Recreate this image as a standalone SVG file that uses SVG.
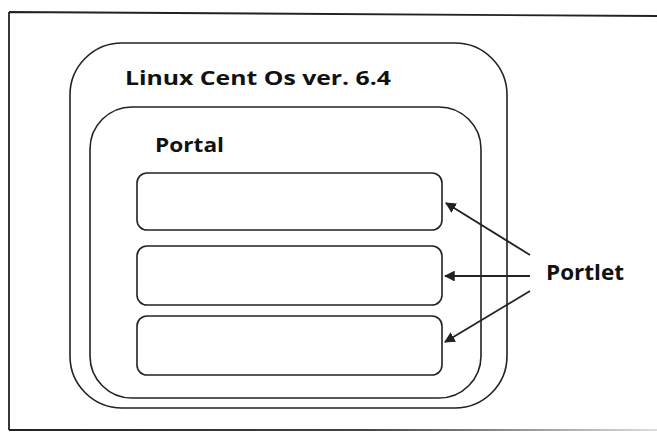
<svg xmlns="http://www.w3.org/2000/svg" width="657" height="433" viewBox="0 0 657 433">
<defs>
<style>
.box{fill:none;stroke:#222;stroke-width:1.6}
.lbl{font-family:"Open Sans","Liberation Sans",sans-serif;font-weight:bold;fill:#111}
.conn{stroke:#222;stroke-width:1.8;fill:none;marker-end:url(#ah)}
</style>
<linearGradient id="fade" gradientUnits="userSpaceOnUse" x1="9" y1="0" x2="657" y2="0">
<stop offset="0" stop-color="#222"/>
<stop offset="0.55" stop-color="#444"/>
<stop offset="1" stop-color="#ddd"/>
</linearGradient>
<marker id="ah" viewBox="0 0 10 10" refX="9" refY="5" markerWidth="6" markerHeight="6" orient="auto" markerUnits="strokeWidth">
<path d="M0,0 L10,5 L0,10 z" fill="#222"/>
</marker>
</defs>
<rect width="657" height="433" fill="#fff"/>
<path d="M9,12 L660,16 M9,12 L9,430" fill="none" stroke="#222" stroke-width="1.8"/>
<line x1="9" y1="430" x2="657" y2="430" stroke="url(#fade)" stroke-width="1.8"/>
<g id="os">
<rect class="box" x="70" y="43" width="437" height="365" rx="52" ry="52"/>
<text class="lbl" x="125" y="85" font-size="20" textLength="266" lengthAdjust="spacingAndGlyphs">Linux Cent Os ver. 6.4</text>
</g>
<g id="portal">
<rect class="box" x="90" y="107" width="391" height="291" rx="42" ry="42"/>
<text class="lbl" x="155" y="152" font-size="20" textLength="69" lengthAdjust="spacingAndGlyphs">Portal</text>
</g>
<g id="portlet1"><rect class="box" x="137" y="173" width="305" height="57" rx="10" ry="10"/></g>
<g id="portlet2"><rect class="box" x="137" y="246" width="305" height="59" rx="10" ry="10"/></g>
<g id="portlet3"><rect class="box" x="137" y="316" width="305" height="59" rx="10" ry="10"/></g>
<g id="portlet-label">
<text class="lbl" x="546" y="280" font-size="21" textLength="78" lengthAdjust="spacingAndGlyphs">Portlet</text>
</g>
<g id="connectors">
<line class="conn" x1="530" y1="255" x2="446" y2="203"/>
<line class="conn" x1="530" y1="276" x2="445" y2="276"/>
<line class="conn" x1="530" y1="291" x2="445" y2="342"/>
</g>
</svg>
